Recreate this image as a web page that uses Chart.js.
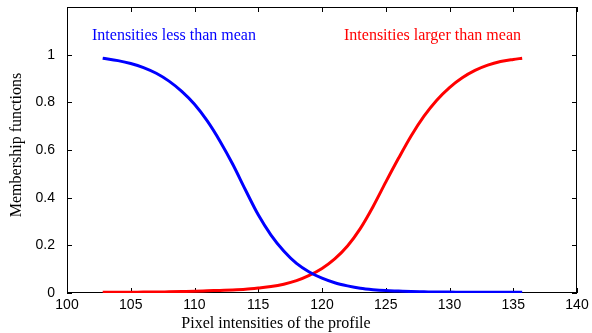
<!DOCTYPE html>
<html>
<head>
<meta charset="utf-8">
<script src="https://cdn.jsdelivr.net/npm/chart.js@4"></script>
<style>
  html, body { margin: 0; padding: 0; background: #fff; }
  #wrap { width: 592px; height: 333px; position: relative; }
</style>
</head>
<body>
<div id="wrap"><canvas id="c" width="592" height="333"></canvas></div>
<script>
// Pixel intensities sampled along the profile
const intensities = [102.8, 104, 105, 106, 107, 108, 109, 110, 111, 112, 113, 114, 115, 116, 117, 118, 119, 120,
  121, 122, 123, 124, 125, 126, 127, 128, 129, 130, 131, 132, 133, 134, 135, 135.7];

// Membership of "intensities less than mean"
const lessThanMean = [0.985, 0.975, 0.963, 0.946, 0.922, 0.889, 0.846, 0.792, 0.722, 0.637, 0.540, 0.432, 0.328, 0.243,
  0.176, 0.124, 0.088, 0.062, 0.043, 0.030, 0.020, 0.014, 0.010, 0.008, 0.006, 0.005, 0.004, 0.004, 0.003, 0.003,
  0.003, 0.003, 0.003, 0.003];

// Membership of "intensities larger than mean"
const largerThanMean = [0.003, 0.003, 0.003, 0.004, 0.004, 0.005, 0.006, 0.007, 0.009, 0.011, 0.013, 0.016, 0.021, 0.027,
  0.037, 0.052, 0.074, 0.103, 0.143, 0.197, 0.270, 0.362, 0.465, 0.565, 0.660, 0.742, 0.809, 0.862, 0.903, 0.934,
  0.956, 0.971, 0.980, 0.985];

const xTicks = [100, 105, 110, 115, 120, 125, 130, 135, 140];
const yTicks = [0, 0.2, 0.4, 0.6, 0.8, 1];

const PLOT = { left: 67, right: 577, top: 7, bottom: 293 };

function pts(ys) { return intensities.map((x, i) => ({ x: x, y: ys[i] })); }

// Frame around the plot and inward tick marks on all four sides (under the curves)
const framePlugin = {
  id: 'frame',
  beforeDatasetsDraw(chart) {
    const ctx = chart.ctx;
    const a = chart.chartArea;
    const xs = chart.scales.x, ys = chart.scales.y;
    ctx.save();
    ctx.strokeStyle = '#000';
    ctx.lineWidth = 1;
    ctx.strokeRect(a.left + 0.5, a.top + 0.5, a.right - a.left - 1, a.bottom - a.top - 1);
    ctx.beginPath();
    const tl = 5;
    xTicks.forEach(v => {
      const px = Math.round(xs.getPixelForValue(v)) + 0.5;
      ctx.moveTo(px, a.bottom); ctx.lineTo(px, a.bottom - tl);
      ctx.moveTo(px, a.top); ctx.lineTo(px, a.top + tl);
    });
    yTicks.forEach(v => {
      const py = Math.round(ys.getPixelForValue(v)) + 0.5;
      ctx.moveTo(a.left, py); ctx.lineTo(a.left + tl, py);
      ctx.moveTo(a.right, py); ctx.lineTo(a.right - tl, py);
    });
    ctx.stroke();
    ctx.restore();
  },
  // axis titles and curve labels
  afterDraw(chart) {
    const ctx = chart.ctx;
    ctx.save();
    ctx.fillStyle = '#000';
    ctx.font = '16px "Liberation Serif", "Times New Roman", serif';
    ctx.textAlign = 'center';
    ctx.textBaseline = 'middle';
    ctx.fillText('Pixel intensities of the profile', 276, 324);
    ctx.save();
    ctx.translate(17, 145);
    ctx.rotate(-Math.PI / 2);
    ctx.fillText('Membership functions', 0, 0);
    ctx.restore();

    ctx.textAlign = 'left';
    ctx.fillStyle = '#0000ff';
    ctx.fillText('Intensities less than mean', 92, 36);
    ctx.fillStyle = '#ff0000';
    ctx.fillText('Intensities larger than mean', 344, 36);
    ctx.restore();
  }
};

new Chart(document.getElementById('c'), {
  type: 'line',
  data: {
    datasets: [
      { label: 'Intensities less than mean', data: pts(lessThanMean), borderColor: '#0000ff', borderWidth: 3,
        pointRadius: 0, fill: false, cubicInterpolationMode: 'monotone' },
      { label: 'Intensities larger than mean', data: pts(largerThanMean), borderColor: '#ff0000', borderWidth: 3,
        pointRadius: 0, fill: false, cubicInterpolationMode: 'monotone' }
    ]
  },
  options: {
    responsive: false,
    animation: false,
    devicePixelRatio: 1,
    layout: { padding: { left: 0, right: 592 - PLOT.right, top: PLOT.top, bottom: 0 } },
    plugins: { legend: { display: false }, tooltip: { enabled: false } },
    scales: {
      x: {
        type: 'linear', min: 100, max: 140,
        grid: { display: false, drawTicks: false },
        border: { display: false },
        afterBuildTicks: s => { s.ticks = xTicks.map(v => ({ value: v })); },
        ticks: { color: '#000', font: { family: '"Liberation Sans", Arial, sans-serif', size: 14 }, padding: 4,
          maxRotation: 0, autoSkip: false, callback: v => String(v) },
        afterFit: s => { s.height = 333 - PLOT.bottom; s.paddingLeft = 0; s.paddingRight = 0; }
      },
      y: {
        type: 'linear', min: 0, max: 1.2,
        grid: { display: false, drawTicks: false },
        border: { display: false },
        afterBuildTicks: s => { s.ticks = yTicks.map(v => ({ value: v })); },
        ticks: { color: '#000', font: { family: '"Liberation Sans", Arial, sans-serif', size: 14 }, padding: 12,
          autoSkip: false, callback: v => String(Math.round(v * 10) / 10) },
        afterFit: s => { s.width = PLOT.left; s.paddingTop = 0; s.paddingBottom = 0; }
      }
    }
  },
  plugins: [framePlugin]
});
</script>
</body>
</html>
